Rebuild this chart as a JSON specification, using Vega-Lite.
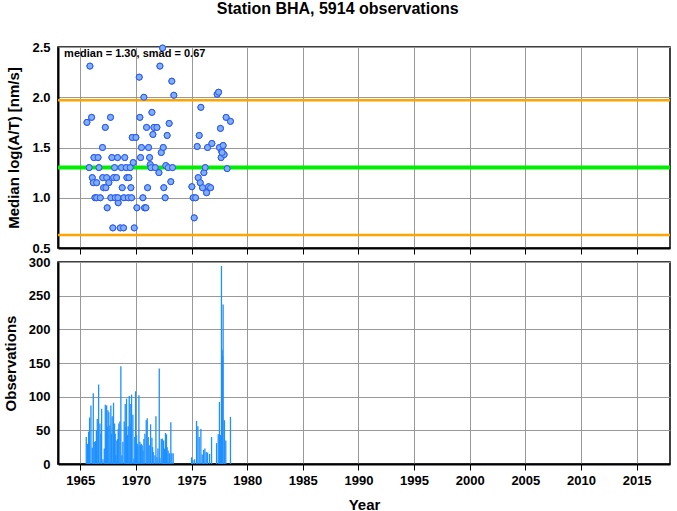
{
  "$schema": "https://vega.github.io/schema/vega-lite/v6.json",
  "padding": {"left": 2, "top": 1, "right": 6, "bottom": 2},
  "title": {"text": "Station BHA, 5914 observations", "font": "Liberation Sans", "fontSize": 16, "fontWeight": "bold", "anchor": "middle", "offset": 23, "color": "#000"},
  "config": {
    "font": "Liberation Sans",
    "view": {"stroke": "#000", "strokeWidth": 1.5},
    "axis": {"labelFont": "Liberation Sans", "labelFontSize": 13, "labelFontWeight": "bold", "labelColor": "#000", "titleFont": "Liberation Sans", "titleFontSize": 15, "titleFontWeight": "bold", "titleColor": "#000", "gridColor": "#999", "gridOpacity": 1, "gridWidth": 1, "domainColor": "#000", "domainWidth": 2, "tickColor": "#000"}
  },
  "datasets": {
    "pts": [
      {"year": 1965.6, "v": 1.75}, {"year": 1965.87, "v": 2.31}, {"year": 1966.02, "v": 1.8}, {"year": 1965.8, "v": 1.3},
      {"year": 1966.08, "v": 1.2}, {"year": 1966.17, "v": 1.15}, {"year": 1966.23, "v": 1.4}, {"year": 1966.6, "v": 1.4},
      {"year": 1966.47, "v": 1.15}, {"year": 1966.32, "v": 1.0}, {"year": 1966.47, "v": 1.0}, {"year": 1966.68, "v": 1.3},
      {"year": 1966.8, "v": 1.0}, {"year": 1967.0, "v": 1.5}, {"year": 1967.02, "v": 1.2}, {"year": 1967.1, "v": 1.1},
      {"year": 1967.25, "v": 1.7}, {"year": 1967.37, "v": 1.2}, {"year": 1967.3, "v": 1.1}, {"year": 1967.42, "v": 0.9},
      {"year": 1967.57, "v": 1.15}, {"year": 1967.72, "v": 1.8}, {"year": 1967.75, "v": 1.0}, {"year": 1967.84, "v": 1.4},
      {"year": 1967.93, "v": 0.7}, {"year": 1968.0, "v": 1.2}, {"year": 1968.08, "v": 1.3}, {"year": 1968.14, "v": 1.0},
      {"year": 1968.26, "v": 1.2}, {"year": 1968.35, "v": 1.4}, {"year": 1968.41, "v": 0.95}, {"year": 1968.38, "v": 1.0},
      {"year": 1968.59, "v": 0.7}, {"year": 1968.7, "v": 1.3}, {"year": 1968.77, "v": 1.1}, {"year": 1968.89, "v": 0.7},
      {"year": 1968.92, "v": 1.0}, {"year": 1969.0, "v": 1.4}, {"year": 1969.13, "v": 1.3}, {"year": 1969.19, "v": 1.2},
      {"year": 1969.31, "v": 1.0}, {"year": 1969.37, "v": 1.2}, {"year": 1969.49, "v": 1.3}, {"year": 1969.55, "v": 1.1},
      {"year": 1969.61, "v": 1.0}, {"year": 1969.67, "v": 1.6}, {"year": 1969.76, "v": 1.35}, {"year": 1969.85, "v": 0.7},
      {"year": 1970.0, "v": 1.6}, {"year": 1970.09, "v": 0.9}, {"year": 1970.3, "v": 2.2}, {"year": 1970.36, "v": 1.8},
      {"year": 1970.42, "v": 1.4}, {"year": 1970.5, "v": 1.5}, {"year": 1970.63, "v": 1.0}, {"year": 1970.72, "v": 2.0},
      {"year": 1970.78, "v": 0.9}, {"year": 1970.9, "v": 0.9}, {"year": 1970.96, "v": 1.7}, {"year": 1971.05, "v": 1.1},
      {"year": 1971.14, "v": 1.5}, {"year": 1971.23, "v": 1.4}, {"year": 1971.29, "v": 1.33}, {"year": 1971.35, "v": 1.3},
      {"year": 1971.44, "v": 1.85}, {"year": 1971.53, "v": 1.63}, {"year": 1971.62, "v": 1.7}, {"year": 1971.74, "v": 1.3},
      {"year": 1971.89, "v": 1.7}, {"year": 1972.07, "v": 1.25}, {"year": 1972.16, "v": 2.31}, {"year": 1972.28, "v": 1.45},
      {"year": 1972.4, "v": 2.49}, {"year": 1972.46, "v": 1.5}, {"year": 1972.51, "v": 1.1}, {"year": 1972.63, "v": 1.0},
      {"year": 1972.69, "v": 1.32}, {"year": 1972.81, "v": 1.62}, {"year": 1972.9, "v": 1.3}, {"year": 1972.99, "v": 1.74},
      {"year": 1973.14, "v": 1.16}, {"year": 1973.23, "v": 2.16}, {"year": 1973.29, "v": 1.3}, {"year": 1973.41, "v": 2.02},
      {"year": 1975.03, "v": 1.11}, {"year": 1975.15, "v": 1.0}, {"year": 1975.24, "v": 0.8}, {"year": 1975.36, "v": 1.0},
      {"year": 1975.51, "v": 1.51}, {"year": 1975.6, "v": 1.2}, {"year": 1975.69, "v": 1.62}, {"year": 1975.78, "v": 1.15},
      {"year": 1975.84, "v": 1.9}, {"year": 1975.99, "v": 1.1}, {"year": 1976.11, "v": 1.25}, {"year": 1976.23, "v": 1.3},
      {"year": 1976.35, "v": 1.05}, {"year": 1976.44, "v": 1.5}, {"year": 1976.53, "v": 1.11}, {"year": 1976.71, "v": 1.1},
      {"year": 1976.83, "v": 1.54}, {"year": 1977.3, "v": 2.03}, {"year": 1977.43, "v": 2.05}, {"year": 1977.51, "v": 1.5},
      {"year": 1977.6, "v": 1.69}, {"year": 1977.66, "v": 1.4}, {"year": 1977.72, "v": 1.46}, {"year": 1977.84, "v": 1.52},
      {"year": 1977.93, "v": 1.43}, {"year": 1978.11, "v": 1.8}, {"year": 1978.2, "v": 1.29}, {"year": 1978.5, "v": 1.76},
      {"year": 1977.75, "v": 1.45}
    ],
    "bars": [
      {"year": 1965.54, "n": 40}, {"year": 1965.65, "n": 30}, {"year": 1965.75, "n": 48}, {"year": 1965.84, "n": 69},
      {"year": 1965.96, "n": 87}, {"year": 1966.08, "n": 24}, {"year": 1966.17, "n": 105}, {"year": 1966.26, "n": 33},
      {"year": 1966.38, "n": 34}, {"year": 1966.45, "n": 50}, {"year": 1966.53, "n": 67}, {"year": 1966.65, "n": 118},
      {"year": 1966.77, "n": 60}, {"year": 1966.85, "n": 45}, {"year": 1966.92, "n": 82}, {"year": 1967.04, "n": 7},
      {"year": 1967.16, "n": 23}, {"year": 1967.25, "n": 88}, {"year": 1967.31, "n": 50}, {"year": 1967.37, "n": 87},
      {"year": 1967.43, "n": 55}, {"year": 1967.49, "n": 80}, {"year": 1967.57, "n": 77}, {"year": 1967.66, "n": 57},
      {"year": 1967.75, "n": 87}, {"year": 1967.81, "n": 45}, {"year": 1967.87, "n": 71}, {"year": 1967.99, "n": 91},
      {"year": 1968.08, "n": 60}, {"year": 1968.14, "n": 45}, {"year": 1968.2, "n": 13}, {"year": 1968.29, "n": 35},
      {"year": 1968.35, "n": 37}, {"year": 1968.41, "n": 52}, {"year": 1968.47, "n": 60}, {"year": 1968.56, "n": 63},
      {"year": 1968.65, "n": 145}, {"year": 1968.74, "n": 13}, {"year": 1968.83, "n": 33}, {"year": 1968.95, "n": 63},
      {"year": 1969.04, "n": 89}, {"year": 1969.1, "n": 55}, {"year": 1969.16, "n": 97}, {"year": 1969.25, "n": 43},
      {"year": 1969.31, "n": 56}, {"year": 1969.4, "n": 101}, {"year": 1969.49, "n": 89}, {"year": 1969.55, "n": 60},
      {"year": 1969.61, "n": 103}, {"year": 1969.73, "n": 73}, {"year": 1969.82, "n": 8}, {"year": 1969.9, "n": 40},
      {"year": 1969.97, "n": 108}, {"year": 1970.06, "n": 43}, {"year": 1970.12, "n": 30}, {"year": 1970.18, "n": 27},
      {"year": 1970.27, "n": 102}, {"year": 1970.36, "n": 33}, {"year": 1970.42, "n": 28}, {"year": 1970.48, "n": 30},
      {"year": 1970.57, "n": 28}, {"year": 1970.64, "n": 20}, {"year": 1970.72, "n": 37}, {"year": 1970.81, "n": 45},
      {"year": 1970.93, "n": 65}, {"year": 1971.02, "n": 68}, {"year": 1971.11, "n": 40}, {"year": 1971.2, "n": 28},
      {"year": 1971.32, "n": 59}, {"year": 1971.44, "n": 39}, {"year": 1971.5, "n": 25}, {"year": 1971.56, "n": 18},
      {"year": 1971.71, "n": 13}, {"year": 1971.8, "n": 71}, {"year": 1971.89, "n": 10}, {"year": 1971.98, "n": 23},
      {"year": 1972.1, "n": 142}, {"year": 1972.16, "n": 9}, {"year": 1972.28, "n": 37}, {"year": 1972.37, "n": 38},
      {"year": 1972.49, "n": 35}, {"year": 1972.57, "n": 23}, {"year": 1972.66, "n": 46}, {"year": 1972.75, "n": 44},
      {"year": 1972.81, "n": 25}, {"year": 1972.9, "n": 20}, {"year": 1973.02, "n": 16}, {"year": 1973.14, "n": 62},
      {"year": 1973.23, "n": 16}, {"year": 1973.35, "n": 16},
      {"year": 1975.0, "n": 10}, {"year": 1975.12, "n": 6}, {"year": 1975.27, "n": 7}, {"year": 1975.45, "n": 64},
      {"year": 1975.57, "n": 56}, {"year": 1975.69, "n": 40}, {"year": 1975.84, "n": 52}, {"year": 1975.96, "n": 14},
      {"year": 1976.08, "n": 21}, {"year": 1976.2, "n": 23}, {"year": 1976.32, "n": 18}, {"year": 1976.44, "n": 17},
      {"year": 1976.62, "n": 15}, {"year": 1976.8, "n": 40}, {"year": 1977.25, "n": 31}, {"year": 1977.4, "n": 44},
      {"year": 1977.51, "n": 92}, {"year": 1977.6, "n": 43}, {"year": 1977.69, "n": 294}, {"year": 1977.72, "n": 170},
      {"year": 1977.75, "n": 169}, {"year": 1977.8, "n": 160}, {"year": 1977.84, "n": 237}, {"year": 1977.96, "n": 65},
      {"year": 1978.08, "n": 35}, {"year": 1978.5, "n": 70}
    ],
    "lines": [
      {"v": 1.97}, {"v": 0.63}
    ],
    "med": [{"v": 1.3}],
    "note": [{"year": 1963.55, "v": 2.43, "label": "median = 1.30, smad = 0.67"}]
  },
  "vconcat": [
    {
      "width": 612,
      "height": 201,
      "layer": [
        {
          "data": {"name": "pts"},
          "mark": {"type": "point", "filled": true, "fill": "#7fb0ff", "stroke": "#2b55ee", "strokeWidth": 1, "size": 36, "opacity": 1},
          "encoding": {
            "x": {"field": "year", "type": "quantitative", "scale": {"domain": [1963, 2018], "nice": false, "zero": false},
              "axis": {"values": [1965, 1970, 1975, 1980, 1985, 1990, 1995, 2000, 2005, 2010, 2015], "labels": false, "tickSize": 6, "title": null, "grid": true}},
            "y": {"field": "v", "type": "quantitative", "scale": {"domain": [0.5, 2.5], "nice": false, "zero": false},
              "axis": {"values": [0.5, 1.0, 1.5, 2.0, 2.5], "format": ".1f", "tickSize": 0, "labelPadding": 8, "grid": true, "title": "Median log(A/T) [nm/s]", "titlePadding": 10}}
          }
        },
        {
          "data": {"name": "lines"},
          "mark": {"type": "rule", "color": "#ffa500", "strokeWidth": 2.5},
          "encoding": {
            "y": {"field": "v", "type": "quantitative"}
          }
        },
        {
          "data": {"name": "med"},
          "mark": {"type": "rule", "color": "#00ee00", "strokeWidth": 4},
          "encoding": {"y": {"field": "v", "type": "quantitative"}}
        },
        {
          "data": {"name": "pts"},
          "mark": {"type": "point", "filled": true, "fill": "#7fb0ff", "stroke": "#2b55ee", "strokeWidth": 1, "size": 36, "opacity": 1},
          "encoding": {
            "x": {"field": "year", "type": "quantitative"},
            "y": {"field": "v", "type": "quantitative"}
          }
        },
        {
          "data": {"name": "note"},
          "mark": {"type": "text", "align": "left", "baseline": "middle", "font": "Liberation Sans", "fontSize": 11, "fontWeight": "bold", "color": "#000"},
          "encoding": {
            "x": {"field": "year", "type": "quantitative"},
            "y": {"field": "v", "type": "quantitative"},
            "text": {"field": "label", "type": "nominal"}
          }
        }
      ]
    },
    {
      "width": 612,
      "height": 202,
      "data": {"name": "bars"},
      "mark": {"type": "rule", "color": "#1e90ff", "strokeWidth": 1.3},
      "encoding": {
        "x": {"field": "year", "type": "quantitative", "scale": {"domain": [1963, 2018], "nice": false, "zero": false},
          "axis": {"values": [1965, 1970, 1975, 1980, 1985, 1990, 1995, 2000, 2005, 2010, 2015], "format": "d", "tickSize": 6, "labelPadding": 4, "title": "Year", "titlePadding": 10, "grid": true}},
        "y": {"field": "n", "type": "quantitative", "scale": {"domain": [0, 300], "nice": false},
          "axis": {"values": [0, 50, 100, 150, 200, 250, 300], "tickSize": 0, "labelPadding": 8, "grid": true, "title": "Observations", "titlePadding": 10}},
        "y2": {"datum": 0}
      }
    }
  ],
  "spacing": 14,
  "bounds": "flush"
}
